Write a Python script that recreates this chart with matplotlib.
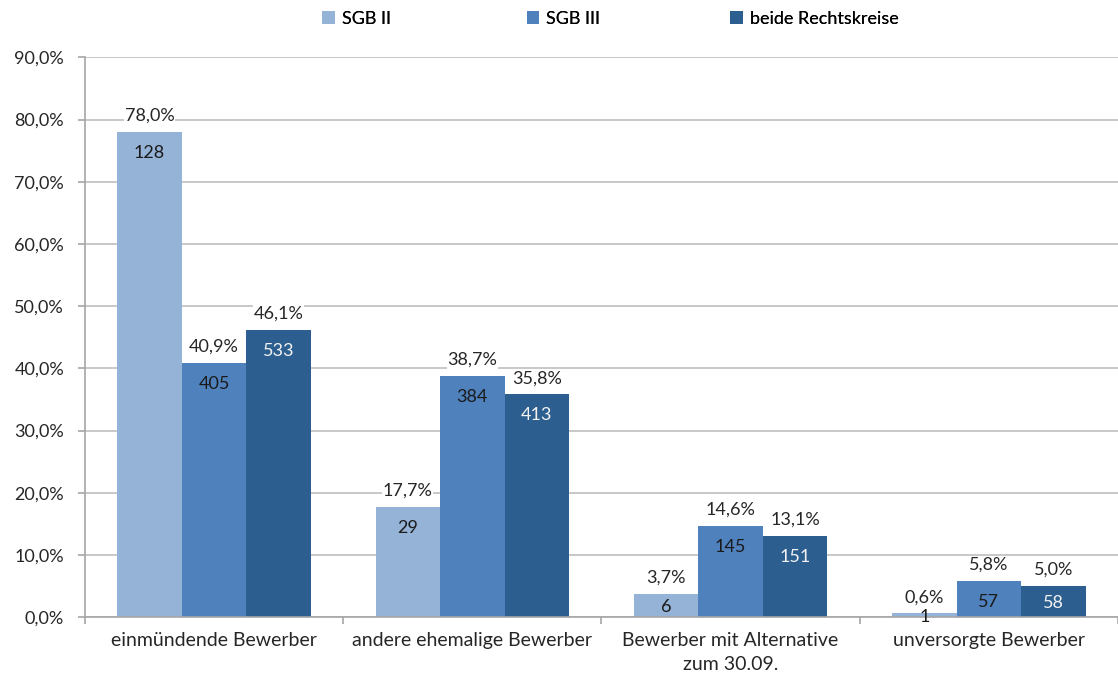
import matplotlib.pyplot as plt
import numpy as np
from matplotlib.patches import Patch

plt.rcParams['font.family'] = ['Lato', 'DejaVu Sans']

categories = ["einmündende Bewerber", "andere ehemalige Bewerber",
              "Bewerber mit Alternative\nzum 30.09.", "unversorgte Bewerber"]
series = ["SGB II", "SGB III", "beide Rechtskreise"]
pct_sgb2 = [78.0, 17.7, 3.7, 0.6]
pct_sgb3 = [40.9, 38.7, 14.6, 5.8]
pct_beide = [46.1, 35.8, 13.1, 5.0]
n_sgb2 = [128, 29, 6, 1]
n_sgb3 = [405, 384, 145, 57]
n_beide = [533, 413, 151, 58]

colors = ["#95B3D7", "#4F81BD", "#2C5F8F"]
count_colors = ["#1a1a1a", "#1a1a1a", "#f2f2f2"]
txt = "#262626"
fs = 13

fig = plt.figure(figsize=(11.18, 6.82), dpi=100)
ax = fig.add_axes([0.076, 0.095, 0.924, 0.821])

x = np.arange(len(categories))
w = 0.25
pcts = [pct_sgb2, pct_sgb3, pct_beide]
counts = [n_sgb2, n_sgb3, n_beide]

for i in range(3):
    pos = x + (i - 1) * w
    bars = ax.bar(pos, pcts[i], width=w, color=colors[i], zorder=2)
    for b, p, n in zip(bars, pcts[i], counts[i]):
        cx = b.get_x() + b.get_width() / 2
        ax.annotate(f"{p:.1f}%".replace(".", ","), (cx, p), xytext=(0, 6),
                    textcoords="offset points", ha="center", va="bottom",
                    fontsize=fs, color=txt, zorder=4,
                    bbox=dict(facecolor="white", edgecolor="none", pad=0.5))
        if p > 5:
            ax.annotate(str(n), (cx, p), xytext=(0, -15),
                        textcoords="offset points", ha="center", va="center",
                        fontsize=fs, color=count_colors[i], zorder=3)
        else:
            ax.annotate(str(n), (cx, p / 2), xytext=(0, -1),
                        textcoords="offset points", ha="center", va="center",
                        fontsize=fs, color=count_colors[i], zorder=3)

ax.set_ylim(0, 90)
ax.set_xlim(-0.5, 3.5)
ax.set_yticks(np.arange(0, 91, 10))
ax.set_yticklabels([f"{v:.1f}%".replace(".", ",") for v in np.arange(0, 91, 10)],
                   fontsize=fs, color=txt)
ax.yaxis.grid(True, color="#BFBFBF", linewidth=1.2, zorder=0)
ax.set_axisbelow(True)

ax.set_xticks(x)
ax.set_xticklabels(categories, fontsize=14, color=txt, linespacing=1.45)
ax.set_xticks(np.arange(-0.5, 4, 1), minor=True)
ax.tick_params(axis="x", which="major", length=0, pad=11)
ax.tick_params(axis="x", which="minor", length=5, color="#A6A6A6", width=1.2)
ax.tick_params(axis="y", length=5, color="#A6A6A6", width=1.2, pad=10)

for s in ["top", "right"]:
    ax.spines[s].set_visible(False)
for s in ["left", "bottom"]:
    ax.spines[s].set_color("#A6A6A6")
    ax.spines[s].set_linewidth(1.2)

# legend entries spaced evenly like the original
leg_x = [0.288, 0.471, 0.653]
for lx, c, name in zip(leg_x, colors, series):
    lg = fig.legend([Patch(facecolor=c, edgecolor="none")], [name],
                    loc="center left", bbox_to_anchor=(lx, 0.972),
                    frameon=False, fontsize=fs, handlelength=0.7,
                    handleheight=0.7, handletextpad=0.4, borderpad=0,
                    borderaxespad=0)
    fig.add_artist(lg)

fig.savefig("out.png", dpi=100, facecolor="white")
